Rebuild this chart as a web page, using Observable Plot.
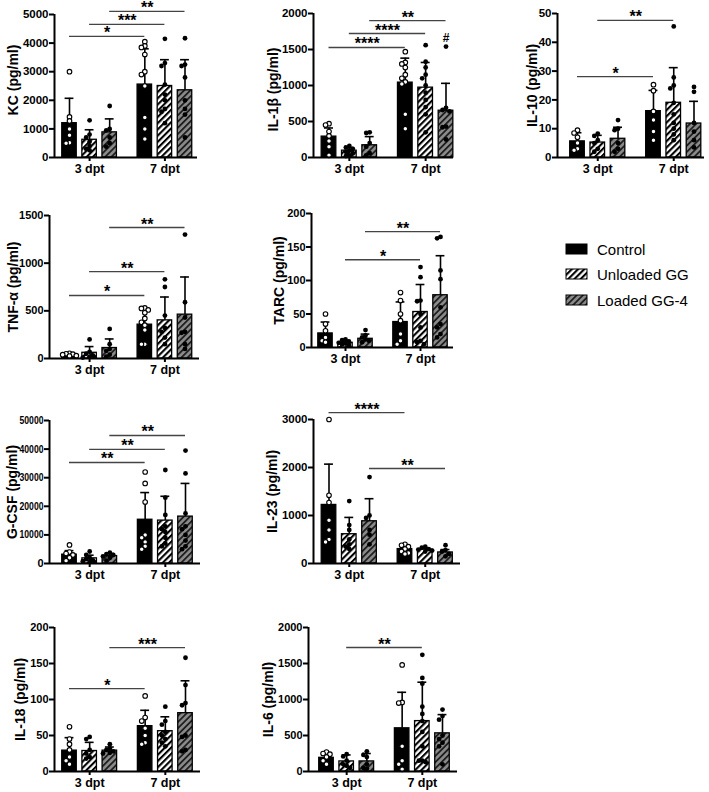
<!DOCTYPE html>
<html><head><meta charset="utf-8">
<script src="https://cdn.jsdelivr.net/npm/d3@7"></script>
<script src="https://cdn.jsdelivr.net/npm/@observablehq/plot@0.6"></script>
<style>
body{margin:0;background:#fff;}
#root{position:relative;width:709px;height:792px;overflow:hidden;background:#fff;font-family:"Liberation Sans",Arial,Helvetica,sans-serif;}
#root svg.pp{position:absolute;}
</style></head><body>
<svg width="0" height="0" style="position:absolute">
<defs>
<pattern id="hatchU" patternUnits="userSpaceOnUse" width="4.4" height="4.4" patternTransform="rotate(45)">
<rect width="4.4" height="4.4" fill="#fff"/><rect width="2.1" height="4.4" fill="#000"/>
</pattern>
<pattern id="hatchL" patternUnits="userSpaceOnUse" width="4.4" height="4.4" patternTransform="rotate(45)">
<rect width="4.4" height="4.4" fill="#8a8a8a"/><rect width="1.8" height="4.4" fill="#1e1e1e"/>
</pattern>
</defs></svg>
<div id="root"></div>
<script>
const groups = ["Control", "Unloaded GG", "Loaded GG-4"];
const days = ["3 dpt", "7 dpt"];

// bar order: Control 3dpt, Unloaded 3dpt, Loaded 3dpt, Control 7dpt, Unloaded 7dpt, Loaded 7dpt
// ---- KC
const kcMean = [1200, 620, 880, 2550, 2500, 2350];
const kcSD = [870, 350, 470, 1250, 920, 1070];
const kcPts = [
  [3000, 1420, 1280, 1000, 780, 520, 500],
  [1300, 800, 700, 550, 400, 300, 250],
  [1800, 1000, 950, 700, 500, 380],
  [4050, 3900, 3850, 3600, 3000, 2900, 2500, 1400, 1000, 650],
  [4150, 3300, 3200, 2550, 2200, 2000, 1700, 1600, 1200],
  [4170, 3250, 3200, 2800, 2000, 1700, 1500, 700]
];
const kcSig = [{a: 0, b: 3, y: 4235, t: "*"}, {a: 1, b: 4, y: 4655, t: "***"}, {a: 2, b: 5, y: 5110, t: "**"}];
const kcTicks = [0, 1000, 2000, 3000, 4000, 5000];

// ---- IL-1β
const il1Mean = [290, 95, 170, 1040, 970, 650];
const il1SD = [120, 45, 120, 340, 350, 380];
const il1Pts = [
  [470, 450, 360, 300, 230, 150, 30],
  [160, 140, 120, 100, 80, 60, 30, 20],
  [350, 340, 200, 150, 60, 30],
  [1470, 1320, 1300, 1250, 1150, 1100, 1050, 1020, 600, 400],
  [1560, 1330, 1250, 1150, 1100, 1000, 900, 800, 700, 600, 350],
  [1540, 690, 660, 640, 430, 420, 250]
];
const il1Sig = [{a: 0, b: 3, y: 1528, t: "****"}, {a: 1, b: 4, y: 1722, t: "****"}, {a: 2, b: 5, y: 1900, t: "**"}];
const il1Note = [{a: 5, y: 1600, t: "#"}];
const il1Ticks = [0, 500, 1000, 1500, 2000];

// ---- IL-10
const il10Mean = [5.6, 5.2, 6.5, 16.1, 19, 11.8];
const il10SD = [3, 2.5, 4, 7.2, 12.2, 7.7];
const il10Pts = [
  [9.5, 8.5, 7, 5, 3, 2.5],
  [8.3, 7.5, 6, 5, 3, 2],
  [13, 10, 9.5, 5, 3, 2],
  [25.3, 23.2, 16, 13, 9, 6],
  [45.5, 27.8, 25, 24, 19, 15, 12, 10, 8, 6],
  [24.5, 22.8, 12, 9, 6, 3.5]
];
const il10Sig = [{a: 0, b: 3, y: 28.1, t: "*"}, {a: 1, b: 4, y: 47.6, t: "**"}];
const il10Ticks = [0, 10, 20, 30, 40, 50];

// ---- TNF-α
const tnfMean = [40, 60, 110, 355, 400, 460];
const tnfSD = [12, 65, 95, 165, 245, 395];
const tnfPts = [
  [55, 50, 45, 40, 30, 25],
  [200, 70, 50, 30, 20, 10],
  [310, 150, 100, 80, 40, 20],
  [530, 525, 510, 480, 420, 380, 350, 300, 150, 150],
  [830, 750, 450, 320, 280, 220, 150],
  [1300, 590, 430, 280, 270, 150, 100]
];
const tnfSig = [{a: 0, b: 3, y: 661, t: "*"}, {a: 1, b: 4, y: 912, t: "**"}, {a: 2, b: 5, y: 1374, t: "**"}];
const tnfTicks = [0, 500, 1000, 1500];

// ---- TARC
const tarcMean = [21, 7, 13, 38, 53, 78];
const tarcSD = [17, 3, 7, 30, 41, 59];
const tarcPts = [
  [50, 35, 25, 15, 10, 8],
  [12, 11, 9, 7, 6, 5, 3],
  [26, 18, 15, 12, 10, 8],
  [82, 70, 50, 40, 20, 10, 5],
  [120, 105, 70, 69, 50, 30, 10, 8, 5],
  [165, 163, 115, 102, 60, 35, 30, 20, 15]
];
const tarcSig = [{a: 1, b: 4, y: 131, t: "*"}, {a: 2, b: 5, y: 173, t: "**"}];
const tarcTicks = [0, 50, 100, 150, 200];

// ---- G-CSF
const gcsfMean = [3100, 1800, 2600, 15300, 15000, 16400];
const gcsfSD = [1400, 1100, 900, 9500, 8500, 11600];
const gcsfPts = [
  [6500, 4000, 3500, 3000, 2000, 1000],
  [4200, 3000, 2000, 1500, 1000, 800, 500],
  [3800, 3300, 3000, 2500, 2000, 1000],
  [32000, 28000, 21500, 10000, 9000, 7500, 6000, 5000],
  [32700, 23000, 17000, 13000, 12000, 11000, 9000, 7000, 6000],
  [39500, 31500, 17500, 13000, 12000, 10000, 8000, 6000, 5000]
];
const gcsfSig = [{a: 0, b: 3, y: 35320, t: "**"}, {a: 1, b: 4, y: 39870, t: "**"}, {a: 2, b: 5, y: 44760, t: "**"}];
const gcsfTicks = [0, 10000, 20000, 30000, 40000, 50000];

// ---- IL-23
const il23Mean = [1220, 610, 880, 300, 290, 230];
const il23SD = [850, 350, 470, 70, 30, 60];
const il23Pts = [
  [3000, 1420, 1270, 900, 700, 500, 450],
  [1300, 800, 700, 500, 400, 350, 300],
  [1800, 1000, 950, 700, 600, 400],
  [400, 380, 350, 300, 250, 220, 200],
  [350, 330, 300, 290, 270, 250],
  [380, 280, 250, 200, 150]
];
const il23Sig = [{a: 0, b: 3, y: 3145, t: "****"}, {a: 2, b: 5, y: 1979, t: "**"}];
const il23Ticks = [0, 1000, 2000, 3000];

// ---- IL-18
const il18Mean = [29, 28.5, 29, 63, 56, 81];
const il18SD = [18, 12, 5, 22, 20, 45];
const il18Pts = [
  [62, 45, 38, 30, 20, 15, 10],
  [48, 45, 30, 25, 20, 18],
  [38, 32, 30, 28, 26, 25],
  [105, 75, 70, 60, 50, 40, 38],
  [90, 70, 65, 55, 50, 45, 40, 35],
  [158, 120, 95, 92, 50, 48, 30, 28]
];
const il18Sig = [{a: 0, b: 3, y: 115, t: "*"}, {a: 2, b: 5, y: 172, t: "***"}];
const il18Ticks = [0, 50, 100, 150, 200];

// ---- IL-6
const il6Mean = [190, 140, 140, 600, 700, 530];
const il6SD = [70, 90, 110, 500, 540, 260];
const il6Pts = [
  [270, 250, 240, 200, 150, 100],
  [240, 210, 150, 100, 80, 50],
  [280, 230, 200, 100, 50, 40],
  [1480, 960, 950, 350, 150, 100, 30],
  [1620, 1300, 1220, 900, 800, 700, 550, 350, 150, 150, 130],
  [860, 770, 720, 500, 450, 400, 350, 100]
];
const il6Sig = [{a: 1, b: 4, y: 1722, t: "**"}];
const il6Ticks = [0, 500, 1000, 1500, 2000];

// ---- layout (pixel geometry of each panel in the page)
const panels = [
  {label: "KC (pg/ml)", mean: kcMean, sd: kcSD, pts: kcPts, sig: kcSig, ticks: kcTicks,
   L: {axisX: 54, right: 197, c0: 69, c5: 184.5, top: 14, bottom: 157, lab: 41, tf: 11.5, ly: -6}},
  {label: "IL-1β (pg/ml)", mean: il1Mean, sd: il1SD, pts: il1Pts, sig: il1Sig, note: il1Note, ticks: il1Ticks,
   L: {axisX: 313, right: 453, c0: 328.5, c5: 445.5, top: 13, bottom: 157, lab: 40, tf: 11.5, ly: 4}},
  {label: "IL-10 (pg/ml)", mean: il10Mean, sd: il10SD, pts: il10Pts, sig: il10Sig, ticks: il10Ticks,
   L: {axisX: 557, right: 704, c0: 577, c5: 693.5, top: 13, bottom: 157, lab: 25, tf: 11.5, ly: 0}},
  {label: "TNF-α (pg/ml)", mean: tnfMean, sd: tnfSD, pts: tnfPts, sig: tnfSig, ticks: tnfTicks,
   L: {axisX: 49, right: 199, c0: 69, c5: 184.5, top: 215, bottom: 358, lab: 36, tf: 11, ly: 0}},
  {label: "TARC (pg/ml)", mean: tarcMean, sd: tarcSD, pts: tarcPts, sig: tarcSig, ticks: tarcTicks,
   L: {axisX: 311, right: 453, c0: 325, c5: 440, top: 213, bottom: 347, lab: 32, tf: 11, ly: 0}},
  {label: "G-CSF (pg/ml)", mean: gcsfMean, sd: gcsfSD, pts: gcsfPts, sig: gcsfSig, ticks: gcsfTicks,
   L: {axisX: 49, right: 200, c0: 69, c5: 185, top: 420, bottom: 563, lab: 37, tf: 11, narrow: 4.8, ly: 0}},
  {label: "IL-23 (pg/ml)", mean: il23Mean, sd: il23SD, pts: il23Pts, sig: il23Sig, ticks: il23Ticks,
   L: {axisX: 313, right: 460, c0: 328.5, c5: 445, top: 419, bottom: 563, lab: 41, tf: 11.5, ly: 0}},
  {label: "IL-18 (pg/ml)", mean: il18Mean, sd: il18SD, pts: il18Pts, sig: il18Sig, ticks: il18Ticks,
   L: {axisX: 54, right: 200, c0: 69, c5: 185, top: 627, bottom: 771, lab: 34, tf: 11, ly: 0}},
  {label: "IL-6 (pg/ml)", mean: il6Mean, sd: il6SD, pts: il6Pts, sig: il6Sig, ticks: il6Ticks,
   L: {axisX: 308, right: 457, c0: 326, c5: 442, top: 627, bottom: 771, lab: 40, tf: 11, ly: 0}}
];

const POS = [0, 1, 2, 3.75, 4.75, 5.75];
const FILLS = ["#000", "url(#hatchU)", "url(#hatchL)"];
const FONT = '"Liberation Sans", Arial, Helvetica, sans-serif';
const root = document.getElementById("root");

function panel(cfg) {
  const L = cfg.L;
  const ymax = cfg.ticks[cfg.ticks.length - 1];
  const u = (L.c5 - L.c0) / 5.75;
  const ML = 55, MR = 10, MT = 26, MB = 34;
  const x0 = (L.axisX - L.c0) / u, x1 = (L.right - L.c0) / u;
  const W = ML + (L.right - L.axisX) + MR;
  const H = MT + (L.bottom - L.top) + MB;
  const ppu = (L.bottom - L.top) / ymax;
  const bars = cfg.mean.map((m, i) => ({i, pos: POS[i], g: i % 3, m, hi: m + cfg.sd[i]}));
  const dots = [];
  const slots = [0, -0.17, 0.17, -0.34, 0.34];
  cfg.pts.forEach((arr, i) => {
    const placed = [];
    arr.forEach(v => {
      let best = null, bestD = -1;
      for (const s of slots) {
        let dmin = Infinity;
        for (const p of placed) if (p.s === s) dmin = Math.min(dmin, Math.abs(p.v - v) * ppu);
        if (dmin >= 4) { best = s; bestD = dmin; break; }
        if (dmin > bestD) { bestD = dmin; best = s; }
      }
      placed.push({s: best, v});
      dots.push({g: i % 3, x: POS[i] + best, v});
    });
  });
  const marks = [];
  for (let g = 0; g < 3; g++) {
    marks.push(Plot.rect(bars.filter(d => d.g === g), {
      x1: d => d.pos - 0.36, x2: d => d.pos + 0.36, y1: () => 0, y2: "m",
      fill: FILLS[g], stroke: "#000", strokeWidth: 1.3
    }));
  }
  marks.push(Plot.ruleX(bars, {x: "pos", y1: "m", y2: "hi", stroke: "#000", strokeWidth: 1.6}));
  marks.push(Plot.ruleY(bars, {y: "hi", x1: d => d.pos - 0.22, x2: d => d.pos + 0.22, stroke: "#000", strokeWidth: 1.6}));
  marks.push(Plot.dot(dots.filter(d => d.g === 0), {x: "x", y: "v", r: 2.3, fill: "#fff", stroke: "#000", strokeWidth: 1.1}));
  marks.push(Plot.dot(dots.filter(d => d.g !== 0), {x: "x", y: "v", r: 2.4, fill: "#000", stroke: "none"}));
  marks.push(Plot.ruleX([x0], {x: d => d, y1: () => 0, y2: () => ymax, stroke: "#000", strokeWidth: 2}));
  marks.push(Plot.ruleY([0], {y: d => d, x1: () => x0, x2: () => x1, stroke: "#000", strokeWidth: 2}));
  marks.push(Plot.axisY({ticks: cfg.ticks, tickFormat: d => String(d), tickSize: 5, tickPadding: 1, strokeWidth: 2, fontSize: L.tf, fontWeight: "bold", label: null}));
  marks.push(Plot.axisX({ticks: [1, 4.75], tickFormat: d => d < 3 ? days[0] : days[1], tickSize: 4, tickPadding: 3, strokeWidth: 2, fontSize: 12.5, fontWeight: "bold", label: null}));
  marks.push(Plot.ruleY(cfg.sig, {y: "y", x1: d => POS[d.a], x2: d => POS[d.b], stroke: "#444", strokeWidth: 1.3}));
  marks.push(Plot.text(cfg.sig, {x: d => (POS[d.a] + POS[d.b]) / 2, y: "y", text: "t", lineAnchor: "bottom", dy: 2, fontSize: 16, fontWeight: "bold"}));
  if (cfg.note) marks.push(Plot.text(cfg.note, {x: d => POS[d.a], y: "y", text: "t", lineAnchor: "bottom", fontSize: 12, fontWeight: "bold"}));
  marks.push(Plot.text([cfg.label], {text: d => d, frameAnchor: "left", dx: -L.lab, dy: L.ly, rotate: -90, textAnchor: "middle", lineAnchor: "middle", fontSize: 14, fontWeight: "bold"}));
  const svg = Plot.plot({
    width: W, height: H,
    marginLeft: ML, marginRight: MR, marginTop: MT, marginBottom: MB,
    x: {type: "linear", domain: [x0, x1]},
    y: {type: "linear", domain: [0, ymax]},
    style: {fontFamily: FONT, fontWeight: "bold", fontSize: "11.5px", background: "transparent", overflow: "visible", color: "#000"},
    marks
  });
  if (L.narrow) {
    svg.querySelectorAll('g[aria-label="y-axis tick label"] text').forEach(t => {
      const n = t.textContent.length;
      if (n > 1) {
        t.setAttribute("textLength", n * L.narrow);
        t.setAttribute("lengthAdjust", "spacingAndGlyphs");
      }
    });
  }
  svg.classList.add("pp");
  svg.style.left = (L.axisX - ML) + "px";
  svg.style.top = (L.top - MT) + "px";
  svg.style.maxWidth = "none";
  root.appendChild(svg);
}
panels.forEach(panel);

// legend
const leg = d3.create("svg").attr("class", "pp").attr("width", 149).attr("height", 80)
  .style("left", "560px").style("top", "236px").style("font-family", FONT);
groups.forEach((name, i) => {
  const yTop = [8, 33, 59][i];
  leg.append("rect").attr("x", 6).attr("y", yTop).attr("width", 21).attr("height", 10)
    .attr("fill", FILLS[i]).attr("stroke", "#000").attr("stroke-width", 1);
  leg.append("text").attr("x", 37).attr("y", yTop + 10.5).attr("font-size", 15).attr("fill", "#000").text(name);
});
root.appendChild(leg.node());
</script>
</body></html>
